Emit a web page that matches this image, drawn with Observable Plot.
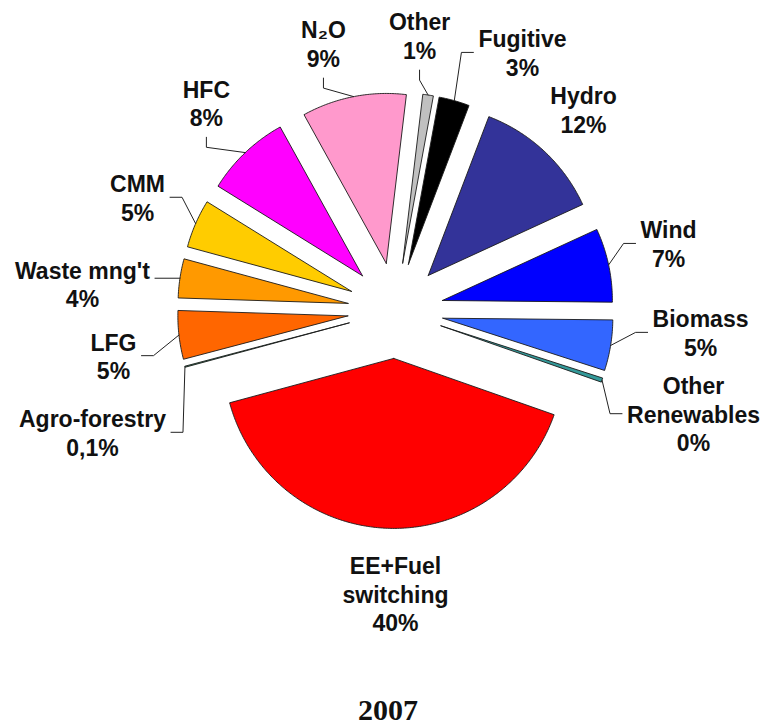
<!DOCTYPE html>
<html>
<head>
<meta charset="utf-8">
<script src="https://cdn.jsdelivr.net/npm/d3@7"></script>
<script src="https://cdn.jsdelivr.net/npm/@observablehq/plot@0.6"></script>
<style>
  html, body { margin: 0; padding: 0; background: #fff; }
  #chart { width: 766px; }
  #caption { width: 766px; height: 45px; line-height: 60px; text-align: center; padding-left: 10px; box-sizing: border-box;
    font-family: "Liberation Serif", "Times New Roman", serif; font-weight: bold; font-size: 30px; color: #111; }
</style>
</head>
<body>
<div id="chart"></div>
<div id="caption">2007</div>
<script>
// ---- data (clockwise, starting at "Other") ----
const names = ["Other", "Fugitive", "Hydro", "Wind", "Biomass", "Other Renewables",
  "EE+Fuel switching", "Agro-forestry", "LFG", "Waste mng't", "CMM", "HFC", "N2O"];
const values = [1.0, 2.9, 12.3, 7.0, 4.8, 0.4, 40.3, 0.1, 4.6, 3.7, 4.6, 8.1, 9.9];
const labelTexts = ["Other\n1%", "Fugitive\n3%", "Hydro\n12%", "Wind\n7%", "Biomass\n5%",
  "Other\nRenewables\n0%", "EE+Fuel\nswitching\n40%", "Agro-forestry\n0,1%", "LFG\n5%",
  "Waste mng't\n4%", "CMM\n5%", "HFC\n8%", "N\u2082O\n9%"];
const colors = ["#c0c0c0", "#000000", "#333399", "#0000ff", "#3366ff", "#339999",
  "#ff0000", "#339966", "#ff6600", "#ff9900", "#ffcc00", "#ff00ff", "#ff99cc"];

// ---- layout (label placement: angle clockwise from top in degrees, radius in pie radii) ----
const labelAngle  = [5.0, 26.2, 43.1, 76.2, 94.1, 109.1, 180, 248.1, 260.9, 274.9, 293.7, 317.7, 344.9];
const labelRadius = [1.624, 1.692, 1.619, 1.654, 1.799, 1.855, 1.665, 1.921, 1.680, 1.848, 1.657, 1.653, 1.627];
const leaderSide  = ["below", "left", "none", "left", "left", "left", "none", "right", "right", "straight", "right", "below", "below"];

const START_DEG = 6.8;
const R = 1, EXPLODE = 0.282, PX = 1 / 170;
const FONT_SIZE = 23, LINE_H = 1.245;

const rows = names.map((name, i) => ({name, value: values[i], label: labelTexts[i]}));
const pie = d3.pie().sort(null).value(d => d.value)
  .startAngle(START_DEG * Math.PI / 180).endAngle(START_DEG * Math.PI / 180 + 2 * Math.PI);
const arcs = pie(rows);

// slice polygons
const slicePts = [];
arcs.forEach(a => {
  const m = (a.startAngle + a.endAngle) / 2;
  const ax = EXPLODE * Math.sin(m), ay = EXPLODE * Math.cos(m);
  const name = a.data.name;
  slicePts.push({name, x: ax, y: ay});
  const n = Math.max(2, Math.ceil((a.endAngle - a.startAngle) / 0.01));
  for (let k = 0; k <= n; k++) {
    const t = a.startAngle + (a.endAngle - a.startAngle) * k / n;
    slicePts.push({name, x: ax + R * Math.sin(t), y: ay + R * Math.cos(t)});
  }
  slicePts.push({name, x: ax, y: ay});
});

// labels
const ctx = document.createElement("canvas").getContext("2d");
ctx.font = `bold ${FONT_SIZE}px 'Liberation Sans'`;
const labels = arcs.map((a, i) => {
  const ang = labelAngle[i] * Math.PI / 180;
  return {name: a.data.name, text: a.data.label,
    x: labelRadius[i] * Math.sin(ang), y: labelRadius[i] * Math.cos(ang)};
});

// leader lines
const leaderPts = [];
arcs.forEach((a, i) => {
  const side = leaderSide[i];
  if (side === "none") return;
  const lab = labels[i];
  const lines = lab.text.split("\n");
  const w = Math.max(...lines.map(s => ctx.measureText(s).width));
  const h = lines.length * FONT_SIZE * LINE_H;
  const m = (a.startAngle + a.endAngle) / 2;
  const tip = [(EXPLODE + R) * Math.sin(m), (EXPLODE + R) * Math.cos(m)];
  let pts;
  if (side === "left") {
    const attach = [lab.x - (w / 2 + 5) * PX, lab.y];
    pts = [attach, [attach[0] - 12 * PX, lab.y], tip];
  } else if (side === "right") {
    const attach = [lab.x + (w / 2 + 5) * PX, lab.y];
    pts = [attach, [attach[0] + 12 * PX, lab.y], tip];
  } else if (side === "straight") {
    const attach = [lab.x + (w / 2 + 5) * PX, tip[1]];
    pts = [attach, tip];
  } else {
    const attach = [lab.x, lab.y - (h / 2 + 6) * PX];
    pts = [attach, [lab.x, attach[1] - 10 * PX], tip];
  }
  pts.forEach(p => leaderPts.push({name: lab.name, x: p[0], y: p[1]}));
});

const chart = Plot.plot({
  width: 766,
  height: 680,
  margin: 0,
  x: {domain: [-395 / 170, 371 / 170], axis: null},
  y: {domain: [-370 / 170, 310 / 170], axis: null},
  color: {type: "ordinal", domain: names, range: colors},
  style: {background: "white", fontFamily: "'Liberation Sans', Arial, sans-serif"},
  marks: [
    Plot.line(slicePts, {x: "x", y: "y", z: "name", fill: "name", stroke: "#1a1a1a", strokeWidth: 0.9, curve: "linear"}),
    Plot.line(leaderPts, {x: "x", y: "y", z: "name", stroke: "#222", strokeWidth: 1, curve: "linear"}),
    Plot.text(labels, {x: "x", y: "y", text: "text", fontSize: FONT_SIZE, fontWeight: "bold",
      lineHeight: LINE_H, fill: "#111", fontFamily: "'Liberation Sans', Arial, sans-serif"})
  ]
});
document.getElementById("chart").appendChild(chart);
</script>
</body>
</html>
